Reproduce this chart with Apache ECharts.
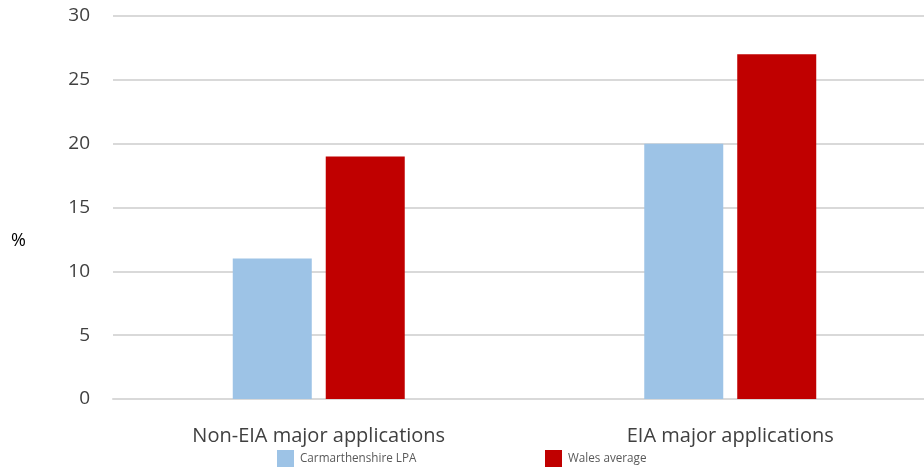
<!DOCTYPE html>
<html>
<head>
<meta charset="utf-8">
<script src="https://cdn.jsdelivr.net/npm/echarts@6/dist/echarts.min.js"></script>
<style>
  html, body { margin: 0; padding: 0; background: #fff; }
  #chart { width: 924px; height: 468px; }
</style>
</head>
<body>
<div id="chart"></div>
<script>
const categories = ["Non-EIA major applications", "EIA major applications"];
const carmarthenshire = [11, 20];
const walesAverage = [19, 27];
const yTicks = [0, 5, 10, 15, 20, 25, 30];

const font = "'Open Sans', 'Noto Sans', sans-serif";
const chart = echarts.init(document.getElementById("chart"));

const legendText = { fontFamily: font, fontSize: 11.7, color: "#595959", padding: [0, 0, 0, 1] };

chart.setOption({
  animation: false,
  grid: {
    top: 16,
    left: 113,
    width: 823,
    height: 383,
    containLabel: false,
    outerBoundsMode: "none",
  },
  legend: [
    {
      data: ["Carmarthenshire LPA"],
      left: 272,
      top: 445,
      icon: "rect",
      itemWidth: 17,
      itemHeight: 17,
      textStyle: legendText,
    },
    {
      data: ["Wales average"],
      left: 540,
      top: 445,
      icon: "rect",
      itemWidth: 17,
      itemHeight: 17,
      textStyle: legendText,
    },
  ],
  graphic: [
    {
      type: "text",
      left: 11,
      top: 232,
      style: { text: "%", font: "18px " + font, fill: "#000" },
    },
  ],
  xAxis: {
    type: "category",
    data: categories,
    axisLine: { lineStyle: { color: "#d9d9d9", width: 2 } },
    axisTick: { show: false },
    axisLabel: {
      fontFamily: font,
      fontSize: 20,
      color: "#404040",
      margin: 27,
    },
  },
  yAxis: {
    type: "value",
    min: yTicks[0],
    max: yTicks[yTicks.length - 1],
    interval: 5,
    axisLine: { show: false },
    axisTick: { show: false },
    axisLabel: {
      fontFamily: font,
      fontSize: 19,
      color: "#404040",
      margin: 23,
    },
    splitLine: { lineStyle: { color: "#d9d9d9", width: 2 } },
  },
  series: [
    {
      name: "Carmarthenshire LPA",
      type: "bar",
      data: carmarthenshire,
      barWidth: 79,
      barGap: "17.7%",
      itemStyle: { color: "#9dc3e6" },
    },
    {
      name: "Wales average",
      type: "bar",
      data: walesAverage,
      barWidth: 79,
      itemStyle: { color: "#c00000" },
    },
  ],
});
</script>
</body>
</html>
